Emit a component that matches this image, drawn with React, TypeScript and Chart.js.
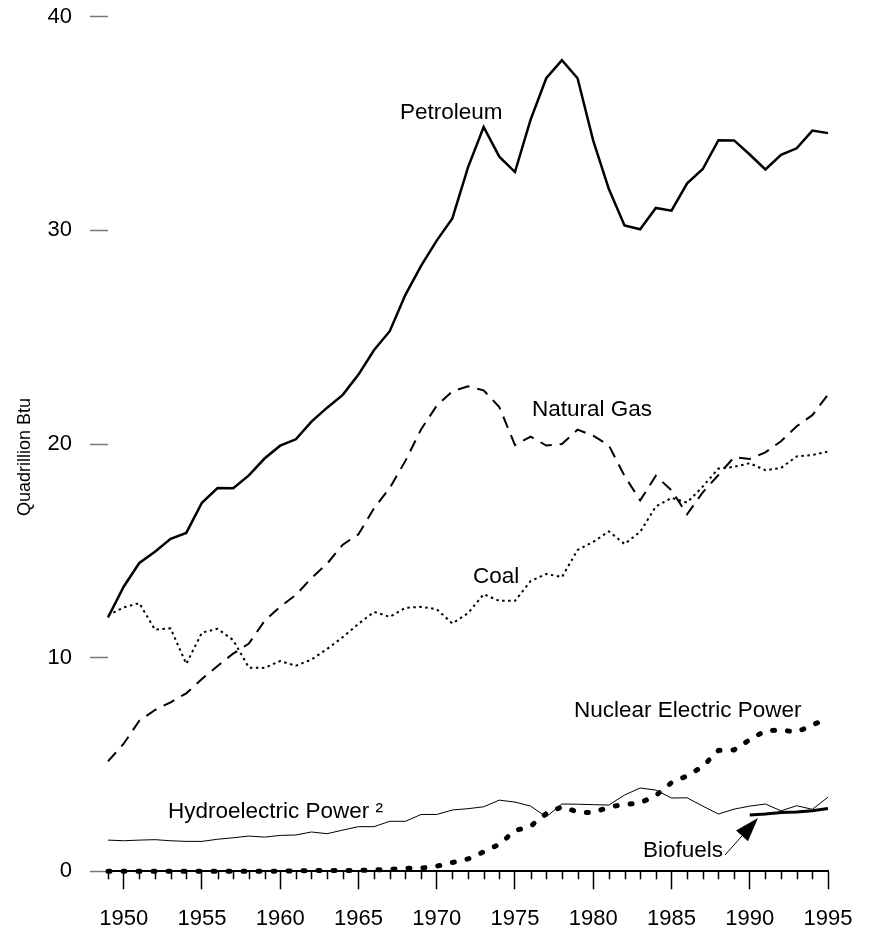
import React, { useEffect, useRef } from "react";
import { Chart, registerables } from "chart.js";

Chart.register(...registerables);

// U.S. energy consumption by source, 1949-1995 (quadrillion Btu)
const years = [
  1949, 1950, 1951, 1952, 1953, 1954, 1955, 1956, 1957, 1958,
  1959, 1960, 1961, 1962, 1963, 1964, 1965, 1966, 1967, 1968,
  1969, 1970, 1971, 1972, 1973, 1974, 1975, 1976, 1977, 1978,
  1979, 1980, 1981, 1982, 1983, 1984, 1985, 1986, 1987, 1988,
  1989, 1990, 1991, 1992, 1993, 1994, 1995,
];

const petroleum = [
  11.88, 13.32, 14.43, 14.96, 15.56, 15.84, 17.25, 17.94, 17.93, 18.53,
  19.32, 19.92, 20.22, 21.05, 21.7, 22.3, 23.25, 24.4, 25.28, 26.98,
  28.34, 29.52, 30.56, 32.95, 34.84, 33.45, 32.73, 35.18, 37.12, 37.97,
  37.12, 34.2, 31.93, 30.23, 30.05, 31.05, 30.92, 32.2, 32.87, 34.22,
  34.21, 33.55, 32.85, 33.53, 33.84, 34.67, 34.55,
];

const naturalGas = [
  5.15, 5.97, 7.05, 7.55, 7.91, 8.33, 9.0, 9.61, 10.19, 10.66,
  11.72, 12.39, 12.93, 13.73, 14.4, 15.29, 15.77, 17.0, 17.94, 19.21,
  20.68, 21.79, 22.47, 22.7, 22.51, 21.73, 19.95, 20.35, 19.93, 20.0,
  20.67, 20.39, 19.93, 18.51, 17.36, 18.51, 17.83, 16.71, 17.74, 18.55,
  19.38, 19.3, 19.61, 20.13, 20.83, 21.35, 22.31,
];

const coal = [
  11.98, 12.35, 12.55, 11.31, 11.37, 9.71, 11.17, 11.35, 10.82, 9.53,
  9.52, 9.84, 9.62, 9.91, 10.41, 10.96, 11.58, 12.14, 11.91, 12.33,
  12.38, 12.27, 11.6, 12.08, 12.97, 12.66, 12.66, 13.58, 13.92, 13.77,
  15.04, 15.42, 15.91, 15.32, 15.89, 17.07, 17.48, 17.26, 18.01, 18.85,
  18.93, 19.1, 18.77, 18.88, 19.42, 19.48, 19.65,
];

const nuclear = [
  0, 0, 0, 0, 0, 0, 0, 0, 0, 0,
  0, 0.01, 0.02, 0.03, 0.04, 0.04, 0.04, 0.06, 0.09, 0.14,
  0.15, 0.24, 0.41, 0.58, 0.91, 1.27, 1.9, 2.11, 2.7, 3.02,
  2.78, 2.74, 3.01, 3.13, 3.2, 3.55, 4.15, 4.47, 4.91, 5.66,
  5.68, 6.16, 6.58, 6.61, 6.52, 6.84, 7.18,
];

const hydro = [
  1.46, 1.43, 1.46, 1.48, 1.43, 1.4, 1.4, 1.5, 1.57, 1.65,
  1.6, 1.68, 1.7, 1.84, 1.76, 1.93, 2.09, 2.09, 2.34, 2.34,
  2.66, 2.66, 2.87, 2.93, 3.02, 3.33, 3.24, 3.05, 2.55, 3.15,
  3.14, 3.12, 3.1, 3.57, 3.9, 3.8, 3.43, 3.44, 3.05, 2.68,
  2.91, 3.05, 3.15, 2.83, 3.07, 2.9, 3.47,
];

const biofuelYears = [1990, 1991, 1992, 1993, 1994, 1995];
const biofuels = [2.63, 2.68, 2.75, 2.77, 2.83, 2.94];

const labeledYears = [1950, 1955, 1960, 1965, 1970, 1975, 1980, 1985, 1990, 1995];
const yTicks = [0, 10, 20, 30, 40];

const FONT = "'Liberation Sans', Arial, Helvetica, sans-serif";

// Text labels placed next to each curve (canvas pixel positions, left/baseline)
const curveLabels = [
  { text: "Petroleum", x: 400, y: 119 },
  { text: "Natural Gas", x: 532, y: 416 },
  { text: "Coal", x: 473, y: 583 },
  { text: "Nuclear Electric Power", x: 574, y: 717 },
  { text: "Hydroelectric Power \u00B2", x: 168, y: 818 },
  { text: "Biofuels", x: 643, y: 857 },
];

const toPoints = (xs: number[], ys: number[]) => ys.map((v, i) => ({ x: xs[i], y: v }));

const decorations = {
  id: "decorations",
  beforeDatasetsDraw(chart: any) {
    // yearly minor ticks under the time axis
    const { ctx, chartArea, scales } = chart;
    ctx.save();
    ctx.strokeStyle = "#000";
    ctx.lineWidth = 1.5;
    for (const yr of years) {
      if (labeledYears.includes(yr)) continue;
      const px = Math.round(scales.x.getPixelForValue(yr)) + 0.5;
      ctx.beginPath();
      ctx.moveTo(px, chartArea.bottom);
      ctx.lineTo(px, chartArea.bottom + 8);
      ctx.stroke();
    }
    ctx.restore();
  },
  afterDraw(chart: any) {
    const { ctx } = chart;
    ctx.save();
    ctx.fillStyle = "#000";
    ctx.font = `22.5px ${FONT}`;
    ctx.textAlign = "left";
    ctx.textBaseline = "alphabetic";
    for (const l of curveLabels) ctx.fillText(l.text, l.x, l.y);

    // pointer from the Biofuels label to its curve
    const sx = 725, sy = 855, tx = 758, ty = 818;
    const ang = Math.atan2(ty - sy, tx - sx);
    const headLen = 24, headHalf = 8;
    const bx = tx - headLen * Math.cos(ang);
    const by = ty - headLen * Math.sin(ang);
    ctx.strokeStyle = "#000";
    ctx.lineWidth = 1;
    ctx.beginPath();
    ctx.moveTo(sx, sy);
    ctx.lineTo(bx, by);
    ctx.stroke();
    ctx.beginPath();
    ctx.moveTo(tx, ty);
    ctx.lineTo(bx + headHalf * Math.sin(ang), by - headHalf * Math.cos(ang));
    ctx.lineTo(bx - headHalf * Math.sin(ang), by + headHalf * Math.cos(ang));
    ctx.closePath();
    ctx.fill();

    // vertical axis title
    ctx.translate(25, 457);
    ctx.rotate(-Math.PI / 2);
    ctx.font = `18px ${FONT}`;
    ctx.textAlign = "center";
    ctx.textBaseline = "middle";
    ctx.fillText("Quadrillion Btu", 0, 0);
    ctx.restore();
  },
};

export default function App() {
  const canvasRef = useRef<HTMLCanvasElement | null>(null);

  useEffect(() => {
    const canvas = canvasRef.current;
    if (!canvas) return;
    Chart.defaults.font.family = FONT;
    const line = (data: any[], extra: any) => ({
      data,
      fill: false,
      pointRadius: 0,
      tension: 0,
      clip: false,
      borderColor: "#000",
      ...extra,
    });
    const chart = new Chart(canvas, {
      type: "line",
      data: {
        datasets: [
          line(toPoints(biofuelYears, biofuels), { label: "Biofuels", borderWidth: 3 }),
          line(toPoints(years, nuclear), {
            label: "Nuclear Electric Power",
            borderWidth: 5,
            borderDash: [2, 13],
            borderCapStyle: "round",
          }),
          line(toPoints(years, petroleum), { label: "Petroleum", borderWidth: 2.5, borderJoinStyle: "miter" }),
          line(toPoints(years, naturalGas), { label: "Natural Gas", borderWidth: 2, borderDash: [12, 8] }),
          line(toPoints(years, coal), { label: "Coal", borderWidth: 2, borderDash: [2.5, 3.5] }),
          line(toPoints(years, hydro), { label: "Hydroelectric Power", borderWidth: 1 }),
        ],
      },
      options: {
        responsive: false,
        devicePixelRatio: 1,
        animation: false,
        events: [],
        layout: { padding: { top: 16.7, right: 41, left: 0, bottom: 0 } },
        plugins: { legend: { display: false }, tooltip: { enabled: false } },
        scales: {
          x: {
            type: "linear",
            min: 1949,
            max: 1995,
            afterBuildTicks: (scale: any) => {
              scale.ticks = labeledYears.map((v) => ({ value: v }));
            },
            afterFit: (scale: any) => {
              scale.height = 60.7;
              scale.paddingLeft = 0;
              scale.paddingRight = 0;
            },
            ticks: {
              autoSkip: false,
              maxRotation: 0,
              padding: 16,
              color: "#000",
              font: { size: 22 },
              callback: (v: any) => String(v),
            },
            grid: {
              drawOnChartArea: false,
              tickLength: 18,
              tickColor: "#000",
              tickWidth: 1.5,
            },
            border: { display: true, color: "#000", width: 2 },
          },
          y: {
            min: 0,
            max: 40,
            afterBuildTicks: (scale: any) => {
              scale.ticks = yTicks.map((v) => ({ value: v }));
            },
            afterFit: (scale: any) => {
              scale.width = 108;
              scale.paddingTop = 0;
              scale.paddingBottom = 0;
            },
            ticks: {
              padding: 18,
              color: "#000",
              font: { size: 22 },
            },
            grid: {
              drawOnChartArea: false,
              tickLength: 18,
              tickColor: "#777",
              tickWidth: 1.5,
            },
            border: { display: false },
          },
        },
      },
      plugins: [decorations],
    });
    return () => chart.destroy();
  }, []);

  return (
    <div style={{ position: "fixed", left: 0, top: 0, width: 869, height: 932, background: "#fff" }}>
      <canvas ref={canvasRef} width={869} height={932} style={{ display: "block" }} />
    </div>
  );
}
